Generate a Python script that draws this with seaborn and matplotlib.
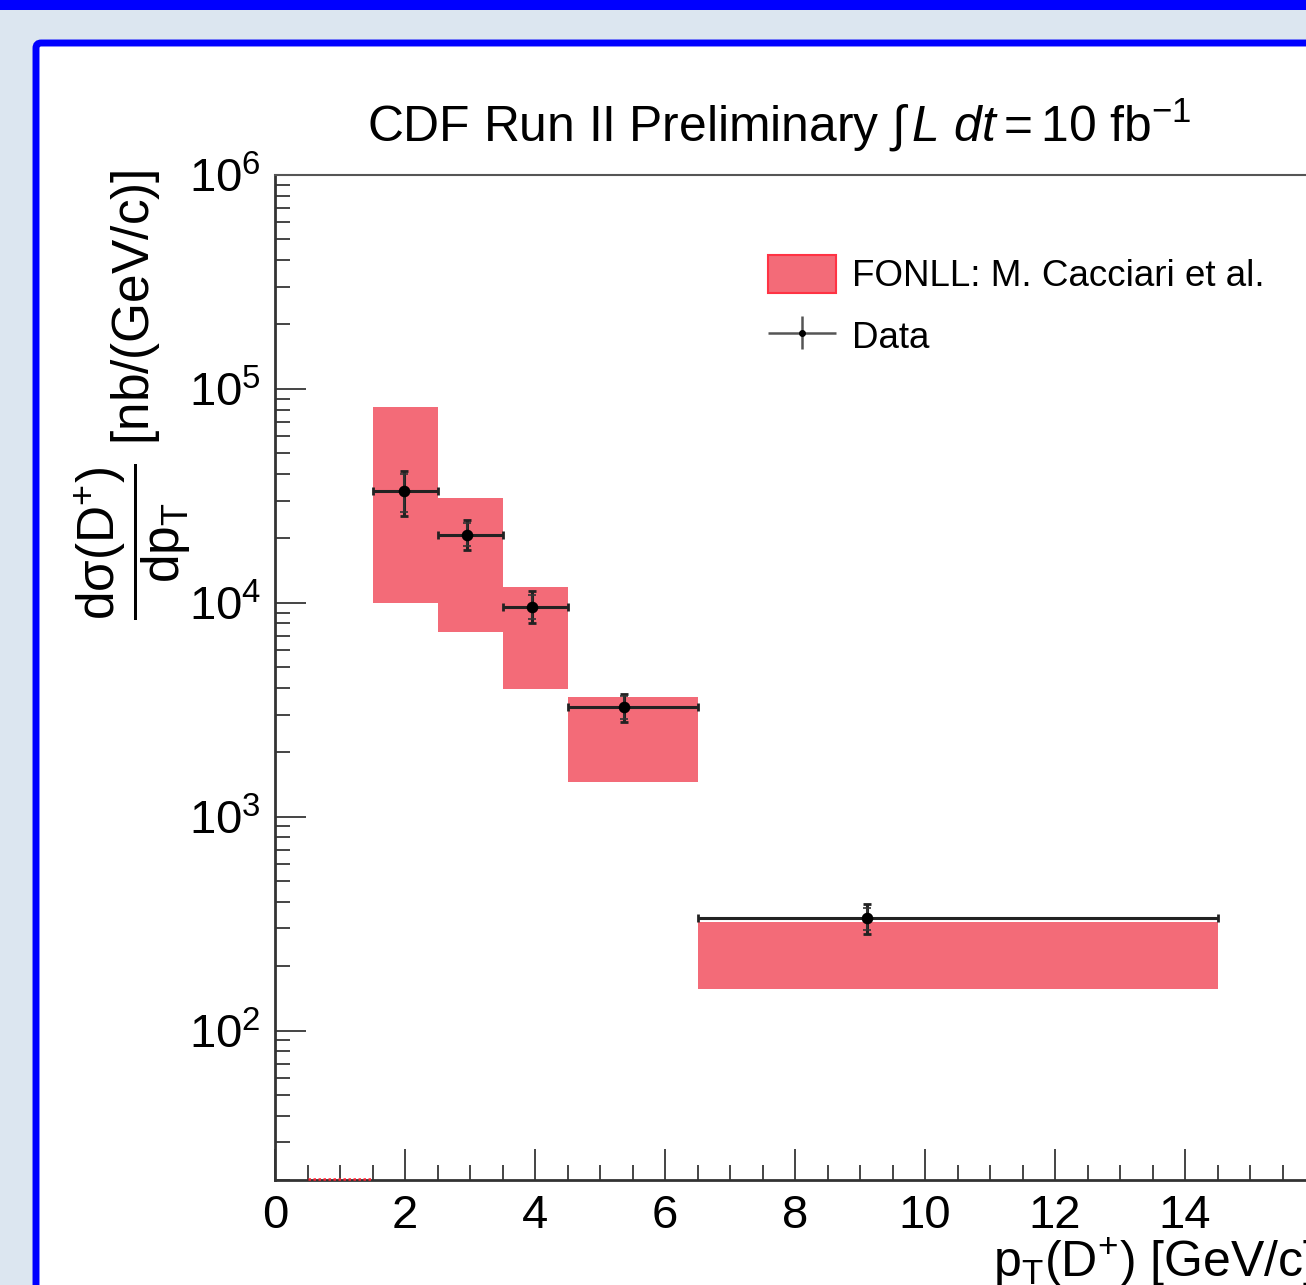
import numpy as np
import pandas as pd
import matplotlib
matplotlib.use("Agg")
import matplotlib.pyplot as plt
import seaborn as sns
from matplotlib.patches import Rectangle, FancyBboxPatch, Patch
from matplotlib.legend_handler import HandlerErrorbar

# ---------------- data ----------------
fonll_edges = [0.5, 1.5, 2.5, 3.5, 4.5, 6.5, 14.5]
fonll_lo = [0.0, 9950.0, 7300.0, 3970.0, 1446.0, 157.0]
fonll_hi = [0.0, 82150.0, 30930.0, 11860.0, 3625.0, 320.0]

data_x = [1.99, 2.95, 3.954, 5.37, 9.11]
data_xlo = [1.5, 2.5, 3.5, 4.5, 6.5]
data_xhi = [2.5, 3.5, 4.5, 6.5, 14.5]
data_y = [33220.0, 20840.0, 9560.0, 3245.0, 334.0]
data_tot_hi = [41330.0, 24500.0, 11320.0, 3760.0, 389.0]
data_tot_lo = [25370.0, 17740.0, 8080.0, 2760.0, 284.0]
data_stat_hi = [39800.0, 23670.0, 10900.0, 3650.0, 375.0]
data_stat_lo = [26600.0, 18380.0, 8400.0, 2860.0, 296.0]

xticks = [0, 2, 4, 6, 8, 10, 12, 14]
ylim = (20.0, 1.0e6)
xlim = (0.0, 16.0)

# ---------------- style ----------------
sns.set_theme(style="ticks")
plt.rcParams["font.family"] = ["Liberation Sans", "DejaVu Sans"]
plt.rcParams["mathtext.fontset"] = "custom"
plt.rcParams["mathtext.rm"] = "Liberation Sans"
plt.rcParams["mathtext.it"] = "Liberation Sans:italic"
plt.rcParams["mathtext.bf"] = "Liberation Sans:bold"
plt.rcParams["mathtext.sf"] = "Liberation Sans"
plt.rcParams["text.color"] = "black"
plt.rcParams["axes.labelcolor"] = "black"

W, H = 1306, 1285
fig = plt.figure(figsize=(W / 100, H / 100), dpi=100)
fig.patch.set_facecolor("#dce6f0")

# top blue band
fig.add_artist(Rectangle((0, 1 - 10 / H), 1, 10 / H, transform=fig.transFigure,
                         facecolor="#0000ff", edgecolor="none", zorder=0))
# inner white canvas with blue border
fig.add_artist(FancyBboxPatch((36 / W, -0.1), 1.2, 1 - 43 / H + 0.1,
                              boxstyle="round,pad=0,rounding_size=0.004",
                              transform=fig.transFigure, facecolor="white",
                              edgecolor="#0000ff", linewidth=5.0, zorder=0))

ax_left, ax_right, ax_top, ax_bottom = 275, 1315, 175, 1180
ax = fig.add_axes([ax_left / W, 1 - ax_bottom / H, (ax_right - ax_left) / W,
                   (ax_bottom - ax_top) / H])
ax.set_facecolor("white")
ax.set_yscale("log")
ax.set_xlim(*xlim)
ax.set_ylim(*ylim)

fcol = "#f36b78"
# FONLL boxes
for i in range(len(fonll_lo)):
    x0, x1 = fonll_edges[i], fonll_edges[i + 1]
    lo, hi = fonll_lo[i], fonll_hi[i]
    if hi <= 0:
        ax.hlines(ylim[0] * 1.012, x0, x1, colors="#ff2030", linewidth=1.8, zorder=6,
                  linestyles=(0, (1, 1)), clip_on=False)
    else:
        ax.bar(x0, hi - lo, width=x1 - x0, bottom=lo, align="edge",
               color=fcol, edgecolor="none", linewidth=0, zorder=2)

# data error bars
dx = np.array(data_x)
dy = np.array(data_y)
xerr = np.vstack([dx - np.array(data_xlo), np.array(data_xhi) - dx])
yerr_tot = np.vstack([dy - np.array(data_tot_lo), np.array(data_tot_hi) - dy])
yerr_stat = np.vstack([dy - np.array(data_stat_lo), np.array(data_stat_hi) - dy])
ax.errorbar(dx, dy, xerr=xerr, yerr=yerr_tot, fmt="none", ecolor="#222222",
            elinewidth=2.2, capsize=3, capthick=2.0, zorder=4)
ax.errorbar(dx, dy, yerr=yerr_stat, fmt="none", ecolor="#333333",
            elinewidth=1.2, capsize=3, capthick=1.2, zorder=4)
df = pd.DataFrame({"x": data_x, "y": data_y})
sns.scatterplot(data=df, x="x", y="y", ax=ax, color="black", s=70,
                edgecolor="black", linewidth=0, zorder=5, legend=False)

# axes styling
ax.set_xlabel("")
ax.set_ylabel("")
for s in ["left", "bottom", "top", "right"]:
    ax.spines[s].set_color("#333333")
    ax.spines[s].set_linewidth(2.0)
ax.spines["top"].set_linewidth(1.5)
ax.spines["top"].set_color("#555555")
ax.set_xticks(xticks)
ax.set_xticks(np.arange(0.5, 16, 0.5), minor=True)
ax.tick_params(axis="both", which="major", direction="in", length=22, width=1.4,
               color="#444444", labelsize=34, pad=10, labelcolor="black")
ax.tick_params(axis="both", which="minor", direction="in", length=11, width=1.4,
               color="#444444")
ax.tick_params(axis="x", which="both", top=False)
ax.tick_params(axis="y", which="both", right=False)
ax.yaxis.set_major_locator(matplotlib.ticker.LogLocator(base=10, numticks=10))
ax.yaxis.set_minor_locator(matplotlib.ticker.LogLocator(base=10, subs=np.arange(2, 10), numticks=20))
ax.yaxis.set_minor_formatter(matplotlib.ticker.NullFormatter())
ax.yaxis.set_major_formatter(matplotlib.ticker.FuncFormatter(
    lambda v, p: r"$\mathregular{10^{%d}}$" % int(round(np.log10(v)))))
ax.grid(False)

# title
fig.text(779 / W, 1 - 125 / H,
         r"CDF Run II Preliminary $\int\,L\ dt = \mathrm{10\ fb^{-1}}$",
         ha="center", va="center", fontsize=35.8, color="black")

# y label
fig.text(133 / W, 1 - 170 / H,
         r"$\dfrac{\mathrm{d\sigma(D^{+})}}{\mathrm{dp_{T}}}$ [nb/(GeV/c)]",
         rotation=90, ha="center", va="top", fontsize=37, color="black")

# x label
fig.text(1315 / W, 1 - 1236 / H, r"p$_\mathrm{T}$(D$^{+}$) [GeV/c]",
         ha="right", va="top", fontsize=36, color="black")

# legend
h1 = Patch(facecolor=fcol, edgecolor="#ff3344", linewidth=1.5)
h2 = ax.errorbar([np.nan], [np.nan], xerr=[1.0], yerr=[1.0], fmt="o", color="black",
                 ecolor="#555555", markersize=4, elinewidth=1.8, capsize=0)
leg = ax.legend([h1, h2], ["FONLL: M. Cacciari et al.", "Data"],
                loc="upper left",
                bbox_to_anchor=((768 - ax_left) / 1040, 1 - (255 - ax_top) / 1005),
                handler_map={type(h2): HandlerErrorbar(xerr_size=0.93, yerr_size=0.45)},
                frameon=False, fontsize=26.5, handlelength=1.85, handleheight=1.2,
                handletextpad=0.42, labelspacing=0.62, borderaxespad=0, borderpad=0)
for t in leg.get_texts():
    t.set_color("black")

fig.savefig("out.png", dpi=100, facecolor=fig.get_facecolor())
